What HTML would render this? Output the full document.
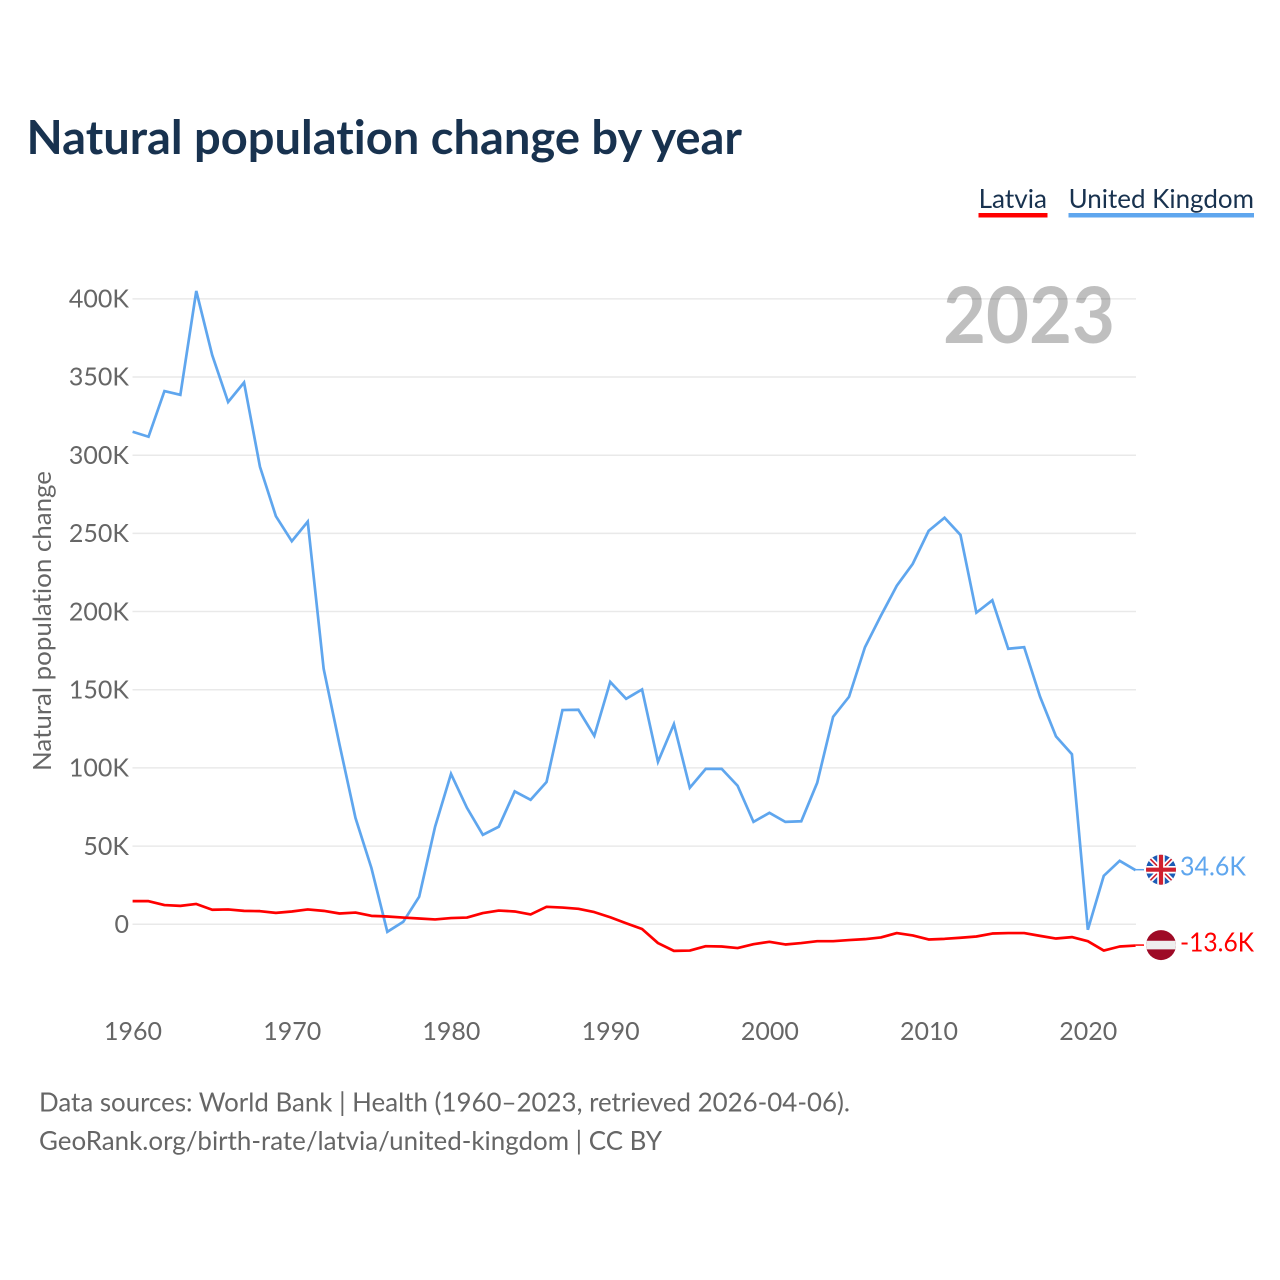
<!DOCTYPE html>
<html lang="en">
<head>
<meta charset="utf-8">
<title>Natural population change by year</title>
<style>
html,body{margin:0;padding:0;background:#fff;width:1280px;height:1280px;overflow:hidden}
svg{display:block}
text{font-family:"Lato","Carlito","Liberation Sans",sans-serif;font-variant-ligatures:none}
</style>
</head>
<body>
<svg id="chart" xmlns="http://www.w3.org/2000/svg" width="1280" height="1280" viewBox="0 0 1280 1280">
  <defs>
    <clipPath id="uk-clip"><circle cx="0" cy="0" r="15"></circle></clipPath>
    <clipPath id="lv-clip"><circle cx="0" cy="0" r="15"></circle></clipPath>
  </defs>
  <rect x="0" y="0" width="1280" height="1280" fill="#fff"></rect>
  <text x="26.5" y="154" font-size="47" font-weight="700" fill="#18324f" textLength="715.5" lengthAdjust="spacingAndGlyphs">Natural population change by year</text>
  <g>
    <text x="978.6" y="208" font-size="26" fill="#18324f" textLength="68.4" lengthAdjust="spacingAndGlyphs">Latvia</text>
    <rect x="978.5" y="213" width="69" height="4.5" fill="#ff0000"></rect>
  </g>
  <g>
    <text x="1068.6" y="208" font-size="26" fill="#18324f" textLength="185.4" lengthAdjust="spacingAndGlyphs">United Kingdom</text>
    <rect x="1068.5" y="213" width="185.5" height="4.5" fill="#5fa6ee"></rect>
  </g>
  <text transform="translate(51 771) rotate(-90)" x="0" y="0" font-size="25" fill="#666" textLength="300" lengthAdjust="spacingAndGlyphs">Natural population change</text>
  <g id="grid"></g>
  <g id="y-ticks"></g>
  <g id="x-ticks"></g>
  <g id="series"></g>
  <text x="1115" y="343" font-size="78" font-weight="700" fill="#000" fill-opacity="0.25" text-anchor="end" textLength="172" lengthAdjust="spacingAndGlyphs">2023</text>
  <g id="end-labels"></g>
  <text x="39" y="1111.5" font-size="26" fill="#666" textLength="811" lengthAdjust="spacingAndGlyphs">Data sources: World Bank | Health (1960–2023, retrieved 2026-04-06).</text>
  <text x="39" y="1150" font-size="26" fill="#666" textLength="623" lengthAdjust="spacingAndGlyphs">GeoRank.org/birth-rate/latvia/united-kingdom | CC BY</text>
</svg>
<script>
const firstYear = 1960;
const lastYear = 2023;
const yTickValues = [0, 50, 100, 150, 200, 250, 300, 350, 400];
const yTickLabels = ['0', '50K', '100K', '150K', '200K', '250K', '300K', '350K', '400K'];
const xTickValues = [1960, 1970, 1980, 1990, 2000, 2010, 2020];
const xTickLabels = ['1960', '1970', '1980', '1990', '2000', '2010', '2020'];
const ukValues = [315, 311.8, 341, 338.6, 405, 364, 334, 346.5, 292.6, 261, 245, 257.5, 163.4, 114.8, 68, 36, -4.8, 1.6, 17.6, 62.4, 96.2, 74.5, 57.2, 62.4, 85, 79.6, 91, 137, 137.2, 120.5, 155, 144.2, 150.2, 103.9, 128, 87.3, 99.4, 99.4, 88.6, 65.5, 71.3, 65.5, 65.9, 90.5, 132.7, 145.5, 177.2, 197.3, 216.5, 230.5, 251.6, 260, 249, 199.3, 207.2, 176.2, 177.2, 145.5, 120.2, 108.8, -3.5, 31, 40.6, 34.6];
const latviaValues = [14.8, 14.8, 12.3, 11.8, 13, 9.3, 9.5, 8.6, 8.4, 7.3, 8.2, 9.5, 8.6, 6.9, 7.5, 5.4, 5, 4.3, 3.7, 3.1, 4, 4.3, 7.2, 8.8, 8.2, 6.3, 11.2, 10.7, 9.9, 7.8, 4.5, 0.7, -3, -12, -17, -16.8, -14, -14.2, -15.2, -12.7, -11.2, -12.9, -12, -10.8, -10.8, -10.1, -9.5, -8.4, -5.6, -7.1, -9.7, -9.3, -8.6, -7.8, -5.9, -5.6, -5.6, -7.4, -9.1, -8.2, -10.8, -16.8, -14.2, -13.6];

const SVG_NS = 'http://www.w3.org/2000/svg';
const xScale = function (year) { return 132.6 + (year - 1960) * (1135.6 - 132.6) / 63; };
const yScale = function (k) { return 924.3 - k * 1.5637; };
function make(tag, parent, attrs) {
  const el = document.createElementNS(SVG_NS, tag);
  for (const key in attrs) { el.setAttribute(key, attrs[key]); }
  parent.appendChild(el);
  return el;
}
function formatK(v) { return v.toFixed(1) + 'K'; }

const grid = document.getElementById('grid');
const yTicks = document.getElementById('y-ticks');
yTickValues.forEach(function (v, i) {
  const line = make('line', grid, { x1: 132.5, x2: 1136, y1: yScale(v), y2: yScale(v), stroke: '#e9e9e9', 'stroke-width': 1.5 });
  
  
  const t = make('text', yTicks, { x: 129, y: yScale(v) + 8.7, 'text-anchor': 'end', 'font-size': 25, fill: '#666' });
  
  
  t.textContent = yTickLabels[i];
});

const xTicks = document.getElementById('x-ticks');
xTickValues.forEach(function (v, i) {
  const t = make('text', xTicks, { x: xScale(v) + 0.4, y: 1040, 'text-anchor': 'middle', 'font-size': 25, fill: '#666' });
  
  
  t.textContent = xTickLabels[i];
});

function linePoints(values) {
  return values.map(function (v, i) {
    return xScale(firstYear + i).toFixed(2) + ',' + yScale(v).toFixed(2);
  }).join(' ');
}
const series = document.getElementById('series');
const ukLine = make('polyline', series, { points: linePoints(ukValues), fill: 'none', stroke: '#5fa6ee', 'stroke-width': 2.7, 'stroke-linejoin': 'miter' });


const lvLine = make('polyline', series, { points: linePoints(latviaValues), fill: 'none', stroke: '#ff0000', 'stroke-width': 2.7, 'stroke-linejoin': 'round' });



const endLabels = document.getElementById('end-labels');
const ukLast = ukValues[ukValues.length - 1];
const lvLast = latviaValues[latviaValues.length - 1];
const ukY = yScale(ukLast) - 0.5;
const lvY = yScale(lvLast) - 0.5;
const ukConnector = make('line', endLabels, { x1: xScale(lastYear), x2: 1144, y1: ukY, y2: ukY, stroke: '#5fa6ee', 'stroke-width': 1.5 });


const lvConnector = make('line', endLabels, { x1: xScale(lastYear), x2: 1144, y1: lvY, y2: lvY, stroke: '#ff0000', 'stroke-width': 1.5 });



const ukFlag = make('g', endLabels, { transform: 'translate(1161 ' + ukY + ')', 'clip-path': 'url(#uk-clip)' });


make('rect', ukFlag, { x: -16, y: -16, width: 32, height: 32, fill: '#1c5bb5' });
make('path', ukFlag, { d: 'M-16,-16L16,16M16,-16L-16,16', stroke: '#fff', 'stroke-width': 5 });
make('path', ukFlag, { d: 'M-16,-16L16,16M16,-16L-16,16', stroke: '#d0202f', 'stroke-width': 1.6 });
make('path', ukFlag, { d: 'M0,-16V16M-16,0H16', stroke: '#fff', 'stroke-width': 7.5 });
make('path', ukFlag, { d: 'M0,-16V16M-16,0H16', stroke: '#d0202f', 'stroke-width': 4.2 });

const lvFlag = make('g', endLabels, { transform: 'translate(1161 ' + lvY + ')', 'clip-path': 'url(#lv-clip)' });


make('rect', lvFlag, { x: -16, y: -16, width: 32, height: 32, fill: '#9e0a26' });
make('rect', lvFlag, { x: -16, y: -4.3, width: 32, height: 8.6, fill: '#eeeeee' });

const ukValueLabel = make('text', endLabels, { x: 1180, y: ukY + 6, 'font-size': 26, fill: '#5fa6ee', textLength: 66, lengthAdjust: 'spacingAndGlyphs' });


ukValueLabel.textContent = formatK(ukLast);
const lvValueLabel = make('text', endLabels, { x: 1180, y: lvY + 6.5, 'font-size': 26, fill: '#ff0000', textLength: 74, lengthAdjust: 'spacingAndGlyphs' });


lvValueLabel.textContent = formatK(lvLast);
</script>
</body>
</html>
